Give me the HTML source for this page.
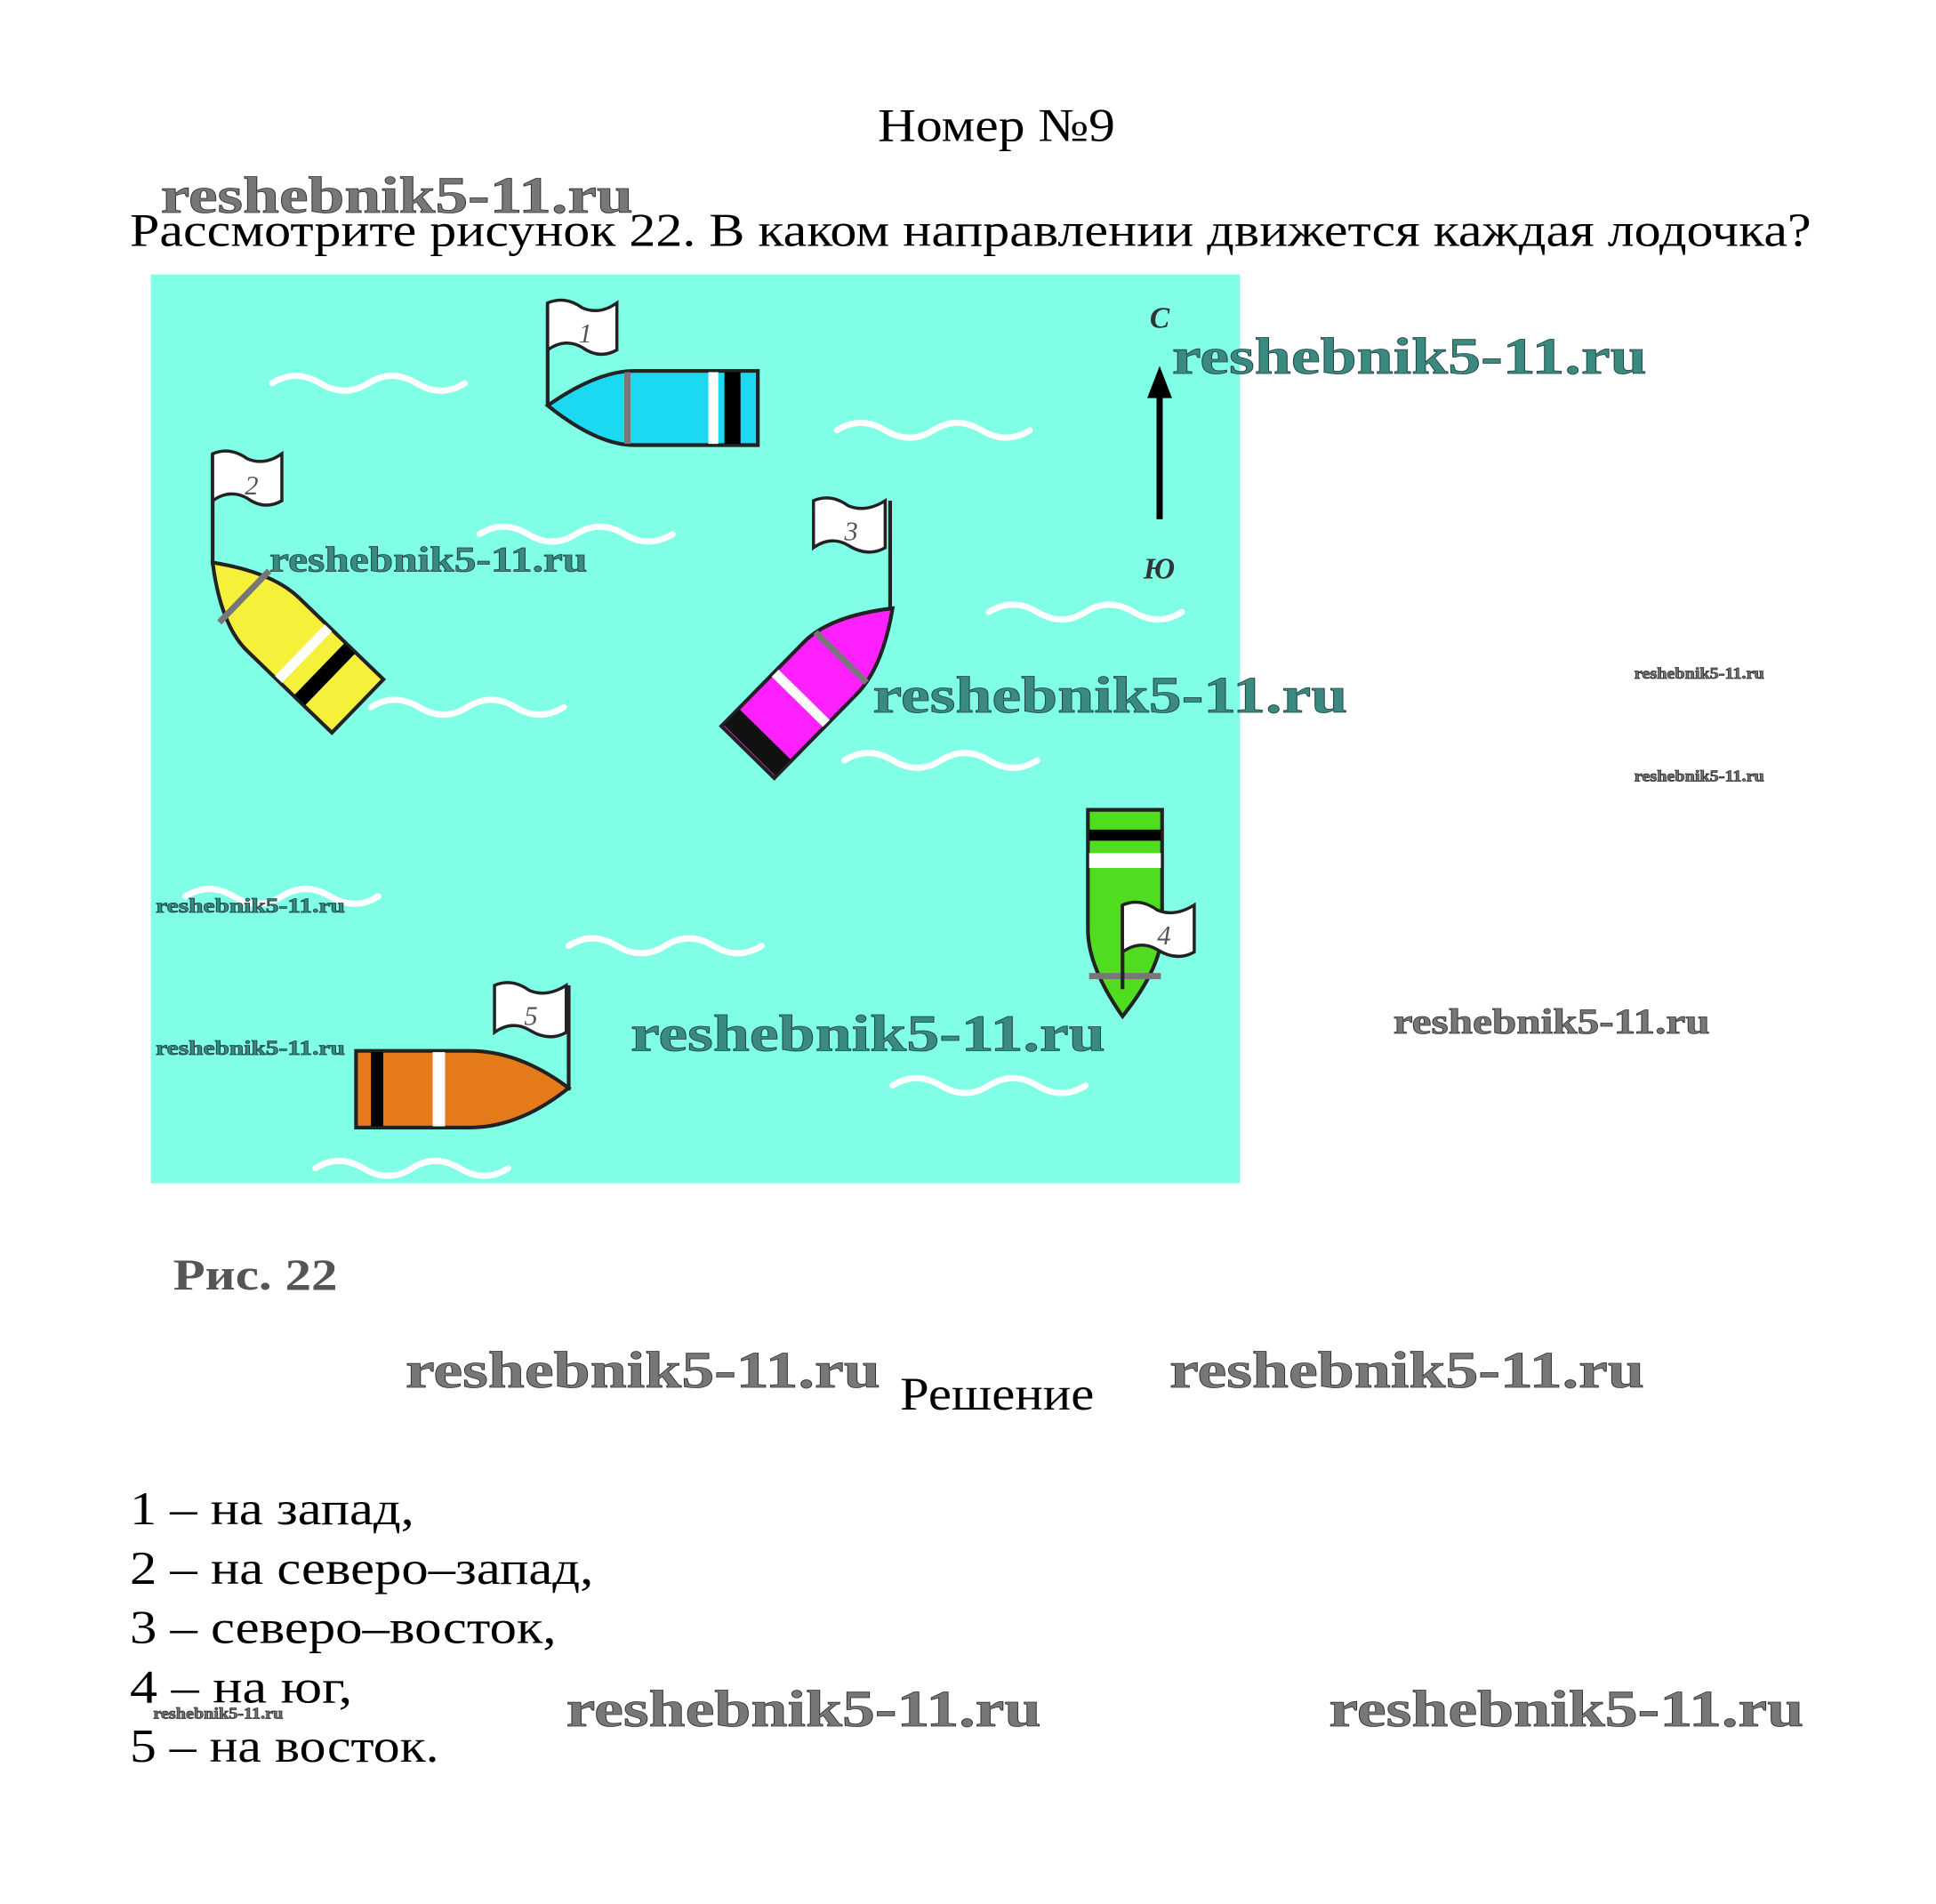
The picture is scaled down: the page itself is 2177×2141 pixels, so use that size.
<!DOCTYPE html>
<html><head><meta charset="utf-8"><style>
html,body{margin:0;padding:0;background:#fff;}
svg{display:block}
.t{font-family:"Liberation Serif",serif;fill:#000}
.w{font-family:"Liberation Serif",serif;font-weight:bold;fill:#777;stroke:#333;stroke-width:0.6}
.wt{font-family:"Liberation Serif",serif;font-weight:bold;fill:#3a8a80;stroke:#244;stroke-width:0.6}
.wave{fill:none;stroke:#fff;stroke-width:5;stroke-linecap:round}
.fl{fill:#fff;stroke:#222;stroke-width:2.5}
.fn{font-family:"Liberation Serif",serif;font-style:italic;font-size:22px;fill:#555}
</style></head><body>
<svg width="2177" height="2141" viewBox="0 0 1566 1540" preserveAspectRatio="none" xmlns="http://www.w3.org/2000/svg">
<defs>
<g id="wv"><path class="wave" d="M0 0 q19 -12 39 0 t39 0 t39 0 t39 0"/></g>
</defs>
<g lengthAdjust="spacingAndGlyphs">
<text class="t" x="710" y="114" font-size="38" textLength="192" lengthAdjust="spacingAndGlyphs">Номер №9</text>
<text class="t" x="105" y="199" font-size="38" textLength="1360" lengthAdjust="spacingAndGlyphs">Рассмотрите рисунок 22. В каком направлении движется каждая лодочка?</text>
</g>

<rect x="122" y="222" width="881" height="735" fill="#80ffe6"/>
<use href="#wv" x="220" y="310"/><use href="#wv" x="677" y="348"/><use href="#wv" x="388" y="432"/>
<use href="#wv" x="800" y="495"/><use href="#wv" x="300" y="572"/><use href="#wv" x="683" y="615"/>
<use href="#wv" x="150" y="725"/><use href="#wv" x="460" y="765"/><use href="#wv" x="722" y="878"/>
<use href="#wv" x="255" y="945"/>

<line x1="938" y1="420" x2="938" y2="318" stroke="#000" stroke-width="5"/>
<polygon points="938,296 928,322 948,322" fill="#000"/>
<text x="930" y="265" font-family="Liberation Serif,serif" font-style="italic" font-weight="bold" font-size="24" fill="#333">С</text>
<text x="925" y="468" font-family="Liberation Serif,serif" font-style="italic" font-weight="bold" font-size="24" fill="#333">Ю</text>

<line x1="443" y1="245" x2="443" y2="327" stroke="#222" stroke-width="3"/>
<path class="fl" d="M443 245 q14 -6 28 4 q14 6 28 -4 l0 38 q-14 8 -28 -2 q-14 -8 -28 2 z"/>
<text class="fn" x="468" y="277">1</text>
<g transform="translate(443,328)">
<path d="M0 0 Q40 -28 70 -28 L170 -28 L170 32 L70 32 Q40 32 0 0Z" fill="#1ad9f0" stroke="#222" stroke-width="3"/>
<rect x="62" y="-27" width="5" height="58" fill="#777"/>
<rect x="130" y="-27" width="8" height="58" fill="#fff"/>
<rect x="143" y="-27" width="13" height="58" fill="#000"/>
</g>

<line x1="172" y1="367" x2="172" y2="457" stroke="#222" stroke-width="3"/>
<path class="fl" d="M172 367 q14 -6 28 4 q14 6 28 -4 l0 38 q-14 8 -28 -2 q-14 -8 -28 2 z"/>
<text class="fn" x="198" y="400">2</text>
<g transform="translate(172,455) rotate(44)">
<path d="M0 0 Q40 -28 70 -28 L165 -28 L165 32 L70 32 Q40 32 0 0Z" fill="#f5f03a" stroke="#222" stroke-width="3"/>
<rect x="35" y="-27" width="5" height="58" fill="#777"/>
<rect x="100" y="-27" width="8" height="58" fill="#fff"/>
<rect x="122" y="-27" width="12" height="58" fill="#000"/>
</g>

<line x1="720" y1="405" x2="720" y2="494" stroke="#222" stroke-width="3"/>
<path class="fl" d="M658 405 q14 -6 28 4 q14 6 30 -4 l0 38 q-14 8 -30 -2 q-14 -8 -28 2 z"/>
<text class="fn" x="683" y="437">3</text>
<g transform="translate(722,492) rotate(134.5)">
<path d="M0 0 Q40 -28 70 -28 L165 -28 L165 32 L70 32 Q40 32 0 0Z" fill="#ff20ff" stroke="#222" stroke-width="3"/>
<rect x="55" y="-27" width="5" height="58" fill="#777"/>
<rect x="100" y="-27" width="8" height="58" fill="#fff"/>
<rect x="145" y="-27" width="18" height="58" fill="#111"/>
</g>

<g transform="translate(908,822) rotate(-90)">
<path d="M0 0 Q40 -28 70 -28 L167 -28 L167 32 L70 32 Q40 32 0 0Z" fill="#50dd20" stroke="#222" stroke-width="3"/>
<rect x="30" y="-27" width="5" height="58" fill="#777"/>
<rect x="120" y="-27" width="12" height="58" fill="#fff"/>
<rect x="142" y="-27" width="9" height="58" fill="#000"/>
</g>
<line x1="908" y1="732" x2="908" y2="800" stroke="#222" stroke-width="3"/>
<path class="fl" d="M908 732 q14 -6 28 4 q14 6 30 -4 l0 38 q-14 8 -30 -2 q-14 -8 -28 2 z"/>
<text class="fn" x="936" y="764">4</text>

<line x1="460" y1="797" x2="460" y2="882" stroke="#222" stroke-width="3"/>
<path class="fl" d="M400 797 q14 -6 28 4 q14 6 30 -4 l0 38 q-14 8 -30 -2 q-14 -8 -28 2 z"/>
<text class="fn" x="424" y="829">5</text>
<g transform="translate(460,880) scale(-1,1)">
<path d="M0 0 Q40 -30 80 -30 L172 -30 L172 32 L80 32 Q40 32 0 0Z" fill="#e57a1a" stroke="#222" stroke-width="3"/>
<rect x="100" y="-29" width="10" height="60" fill="#fff"/>
<rect x="150" y="-29" width="10" height="60" fill="#000"/>
</g>

<text x="140" y="1043" font-family="Liberation Serif,serif" font-weight="bold" font-size="36" fill="#555" textLength="133" lengthAdjust="spacingAndGlyphs">Рис. 22</text>
<text class="t" x="728" y="1140" font-size="38" textLength="157" lengthAdjust="spacingAndGlyphs">Решение</text>
<text class="t" x="105" y="1233" font-size="38" textLength="230" lengthAdjust="spacingAndGlyphs">1 – на запад,</text>
<text class="t" x="105" y="1281" font-size="38" textLength="375" lengthAdjust="spacingAndGlyphs">2 – на северо–запад,</text>
<text class="t" x="105" y="1329" font-size="38" textLength="345" lengthAdjust="spacingAndGlyphs">3 – северо–восток,</text>
<text class="t" x="105" y="1377" font-size="38" textLength="180" lengthAdjust="spacingAndGlyphs">4 – на юг,</text>
<text class="t" x="105" y="1425" font-size="38" textLength="250" lengthAdjust="spacingAndGlyphs">5 – на восток.</text>

<text class="w" x="130" y="172" font-size="42" textLength="382" lengthAdjust="spacingAndGlyphs">reshebnik5-11.ru</text>
<text class="wt" x="948" y="302" font-size="42" textLength="384" lengthAdjust="spacingAndGlyphs">reshebnik5-11.ru</text>
<text class="wt" x="218" y="462" font-size="29" textLength="257" lengthAdjust="spacingAndGlyphs">reshebnik5-11.ru</text>
<text class="wt" x="706" y="576" font-size="42" textLength="384" lengthAdjust="spacingAndGlyphs">reshebnik5-11.ru</text>
<text class="w" x="1322" y="549" font-size="13" textLength="105" lengthAdjust="spacingAndGlyphs">reshebnik5-11.ru</text>
<text class="w" x="1322" y="632" font-size="13" textLength="105" lengthAdjust="spacingAndGlyphs">reshebnik5-11.ru</text>
<text class="wt" x="126" y="738" font-size="17" textLength="153" lengthAdjust="spacingAndGlyphs">reshebnik5-11.ru</text>
<text class="wt" x="126" y="853" font-size="17" textLength="153" lengthAdjust="spacingAndGlyphs">reshebnik5-11.ru</text>
<text class="wt" x="510" y="850" font-size="42" textLength="384" lengthAdjust="spacingAndGlyphs">reshebnik5-11.ru</text>
<text class="w" x="1127" y="836" font-size="29" textLength="256" lengthAdjust="spacingAndGlyphs">reshebnik5-11.ru</text>
<text class="w" x="328" y="1122" font-size="42" textLength="384" lengthAdjust="spacingAndGlyphs">reshebnik5-11.ru</text>
<text class="w" x="946" y="1122" font-size="42" textLength="384" lengthAdjust="spacingAndGlyphs">reshebnik5-11.ru</text>
<text class="w" x="124" y="1390" font-size="13" textLength="105" lengthAdjust="spacingAndGlyphs">reshebnik5-11.ru</text>
<text class="w" x="458" y="1396" font-size="42" textLength="384" lengthAdjust="spacingAndGlyphs">reshebnik5-11.ru</text>
<text class="w" x="1075" y="1396" font-size="42" textLength="384" lengthAdjust="spacingAndGlyphs">reshebnik5-11.ru</text>
</svg>
</body></html>
